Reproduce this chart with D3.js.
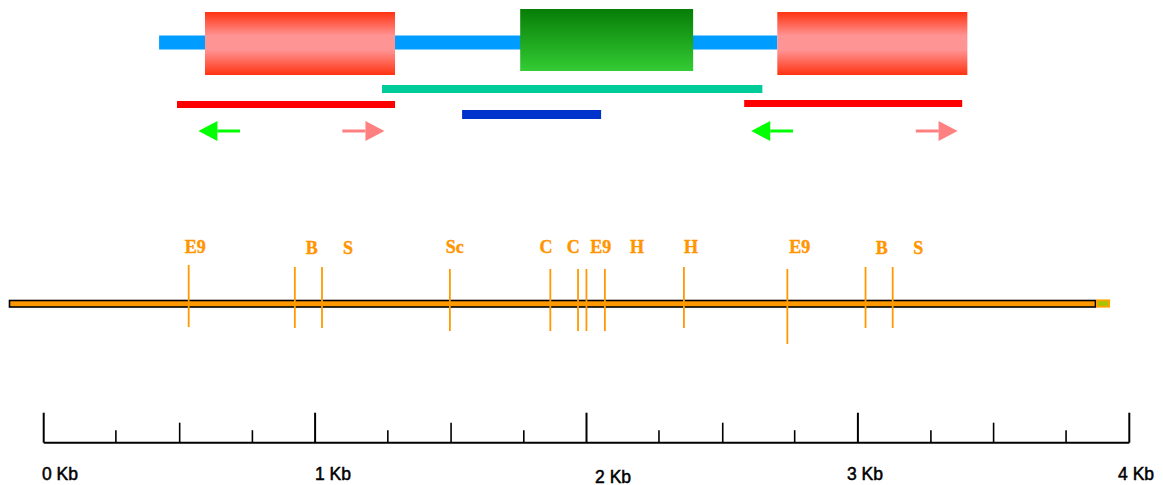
<!DOCTYPE html>
<html>
<head>
<meta charset="utf-8">
<script src="https://cdn.jsdelivr.net/npm/d3@7"></script>
<style>
  body { margin: 0; background: #fff; }
  svg { display: block; }
</style>
</head>
<body>
<div id="chart"></div>
<script>
// gene structure, in kb on the restriction map coordinates
const backbone = [0.551, 2.828];
const exonStart = [0.720, 1.881, 2.828];
const exonEnd   = [1.420, 2.518, 3.528];
const exonType  = ["flank", "core", "flank"];

// probes / fragments under the gene
const probeStart = [1.372, 0.617, 2.706, 1.667];
const probeEnd   = [2.773, 1.420, 3.509, 2.179];
const probeType  = ["teal", "red", "red", "blue"];

// primers: tail -> tip
const primerTail = [0.849, 1.226, 2.886, 3.338];
const primerTip  = [0.696, 1.381, 2.732, 3.492];

// restriction sites
const siteKb = [0.660, 1.051, 1.151, 1.622, 1.992, 2.094, 2.125, 2.193, 2.484, 2.865, 3.153, 3.253];
const siteLabels = ["E9", "B", "S", "Sc", "C", "C", "E9", "H", "H", "E9", "B", "S"];
const siteLabelKb = [0.684, 1.113, 1.247, 1.640, 1.976, 2.076, 2.178, 2.311, 2.510, 2.911, 3.213, 3.347];

// scale bar
const tickKb = [0, 0.266, 0.501, 0.769, 1, 1.268, 1.501, 1.769, 2, 2.267, 2.502, 2.767, 3, 3.269, 3.5, 3.767, 4];
const scaleLabels = ["0 Kb", "1 Kb", "2 Kb", "3 Kb", "4 Kb"];
const scaleLabelKb = [0.06, 1.066, 2.098, 3.026, 4.025];

const width = 1163, height = 485;

const svg = d3.select("#chart").append("svg")
  .attr("width", width)
  .attr("height", height);

const mapX = d3.scaleLinear().domain([0, 4]).range([9.5, 1095.5]);
const barX = d3.scaleLinear().domain([0, 4]).range([43.7, 1129.3]);

// gradients for the exon boxes
const defs = svg.append("defs");
const gRed = defs.append("linearGradient").attr("id", "gradRed")
  .attr("x1", 0).attr("y1", 0).attr("x2", 0).attr("y2", 1);
gRed.append("stop").attr("offset", "0%").attr("stop-color", "#ff3311");
gRed.append("stop").attr("offset", "38%").attr("stop-color", "#ff9494");
gRed.append("stop").attr("offset", "60%").attr("stop-color", "#ff9494");
gRed.append("stop").attr("offset", "100%").attr("stop-color", "#ff3311");
const gGreen = defs.append("linearGradient").attr("id", "gradGreen")
  .attr("x1", 0).attr("y1", 0).attr("x2", 0).attr("y2", 1);
gGreen.append("stop").attr("offset", "0%").attr("stop-color", "#077d07");
gGreen.append("stop").attr("offset", "100%").attr("stop-color", "#34cc34");

// backbone
svg.append("rect")
  .attr("x", mapX(backbone[0]))
  .attr("y", 35.5)
  .attr("width", mapX(backbone[1]) - mapX(backbone[0]))
  .attr("height", 14)
  .attr("fill", "#009cff");

// exons
const boxStyle = {
  flank: { y: 12, h: 63, fill: "url(#gradRed)" },
  core:  { y: 9,  h: 62, fill: "url(#gradGreen)" }
};
svg.selectAll(".exon")
  .data(exonStart.map((s, i) => ({ s, e: exonEnd[i], t: exonType[i] })))
  .enter().append("rect")
  .attr("class", "exon")
  .attr("x", d => mapX(d.s))
  .attr("width", d => mapX(d.e) - mapX(d.s))
  .attr("y", d => boxStyle[d.t].y)
  .attr("height", d => boxStyle[d.t].h)
  .attr("fill", d => boxStyle[d.t].fill);

// probes
const probeStyle = [
  { y: 85, h: 8, fill: "#00cc99" },
  { y: 101, h: 7, fill: "#ff0000" },
  { y: 100, h: 7, fill: "#ff0000" },
  { y: 110, h: 9, fill: "#0033cc" }
];
svg.selectAll(".probe")
  .data(probeStart.map((s, i) => ({ s, e: probeEnd[i], i })))
  .enter().append("rect")
  .attr("class", "probe")
  .attr("x", d => mapX(d.s))
  .attr("width", d => mapX(d.e) - mapX(d.s))
  .attr("y", d => probeStyle[d.i].y)
  .attr("height", d => probeStyle[d.i].h)
  .attr("fill", d => probeStyle[d.i].fill);

// primer arrows
const arrowY = 131, headLen = 19, headHalf = 10;
const primers = primerTail.map((t, i) => ({ t, p: primerTip[i] }));
const arrows = svg.selectAll(".primer")
  .data(primers)
  .enter().append("g")
  .attr("class", "primer")
  .attr("fill", d => d.p < d.t ? "#00ff00" : "#ff8080")
  .attr("stroke", d => d.p < d.t ? "#00ff00" : "#ff8080");
arrows.append("line")
  .attr("x1", d => mapX(d.t))
  .attr("x2", d => mapX(d.p) + (d.p < d.t ? headLen : -headLen))
  .attr("y1", arrowY).attr("y2", arrowY)
  .attr("stroke-width", 3);
arrows.append("path")
  .attr("stroke", "none")
  .attr("d", d => {
    const tip = mapX(d.p), dir = d.p < d.t ? 1 : -1;
    return `M${tip},${arrowY} L${tip + dir * headLen},${arrowY - headHalf} L${tip + dir * headLen},${arrowY + headHalf} Z`;
  });

// restriction map bar
const orange = "#ff9900";
const siteSpan = [[265, 327], [267, 328], [267, 328], [269, 331], [269, 331], [269, 331],
                  [269, 331], [269, 331], [267, 328], [269, 344], [267, 328], [267, 328]];
svg.append("rect")
  .attr("x", mapX(0))
  .attr("y", 300.5)
  .attr("width", mapX(4) - mapX(0))
  .attr("height", 6.5)
  .attr("fill", orange)
  .attr("stroke", "#000")
  .attr("stroke-width", 1.6);
svg.append("rect")
  .attr("x", mapX(4) + 1.5)
  .attr("y", 300.3)
  .attr("width", mapX(4.045) - mapX(4))
  .attr("height", 6.4)
  .attr("fill", "#a8c400")
  .attr("stroke", "#ffa200")
  .attr("stroke-width", 1.8);

svg.selectAll(".site")
  .data(siteKb)
  .enter().append("line")
  .attr("class", "site")
  .attr("x1", d => mapX(d)).attr("x2", d => mapX(d))
  .attr("y1", (d, i) => siteSpan[i][0])
  .attr("y2", (d, i) => siteSpan[i][1])
  .attr("stroke", orange)
  .attr("stroke-width", 1.8);

svg.selectAll(".siteLabel")
  .data(siteLabels)
  .enter().append("text")
  .attr("class", "siteLabel")
  .attr("x", (d, i) => mapX(siteLabelKb[i]))
  .attr("y", (d, i) => (d === "B" || d === "S") ? 254 : 252.5)
  .attr("text-anchor", "middle")
  .attr("font-family", "'Liberation Serif', 'Times New Roman', serif")
  .attr("font-weight", "bold")
  .attr("font-size", 18)
  .attr("fill", "#ff9500")
  .attr("stroke", "#ff9500")
  .attr("stroke-width", 0.4)
  .text(d => d);

// scale bar
const baseY = 442.7;
svg.append("line")
  .attr("x1", barX(0)).attr("x2", barX(4))
  .attr("y1", baseY).attr("y2", baseY)
  .attr("stroke", "#000").attr("stroke-width", 2);

const tickLen = d => {
  const r = Math.round(d * 4) / 4;
  if (Number.isInteger(r)) return 30;
  if (Number.isInteger(r * 2)) return 20;
  return 12.5;
};
svg.selectAll(".tick")
  .data(tickKb)
  .enter().append("line")
  .attr("class", "tick")
  .attr("x1", d => barX(d)).attr("x2", d => barX(d))
  .attr("y1", baseY).attr("y2", d => baseY - tickLen(d))
  .attr("stroke", "#000")
  .attr("stroke-width", d => tickLen(d) > 25 ? 2 : 1.6);

svg.selectAll(".scaleLabel")
  .data(scaleLabels)
  .enter().append("text")
  .attr("class", "scaleLabel")
  .attr("x", (d, i) => barX(scaleLabelKb[i]))
  .attr("y", (d, i) => i === 2 ? 482.5 : 480)
  .attr("text-anchor", "middle")
  .attr("font-family", "'Liberation Sans', Arial, Helvetica, sans-serif")
  .attr("font-size", 17.5)
  .attr("fill", "#000")
  .attr("stroke", "#000")
  .attr("stroke-width", 0.5)
  .text(d => d);
</script>
</body>
</html>
